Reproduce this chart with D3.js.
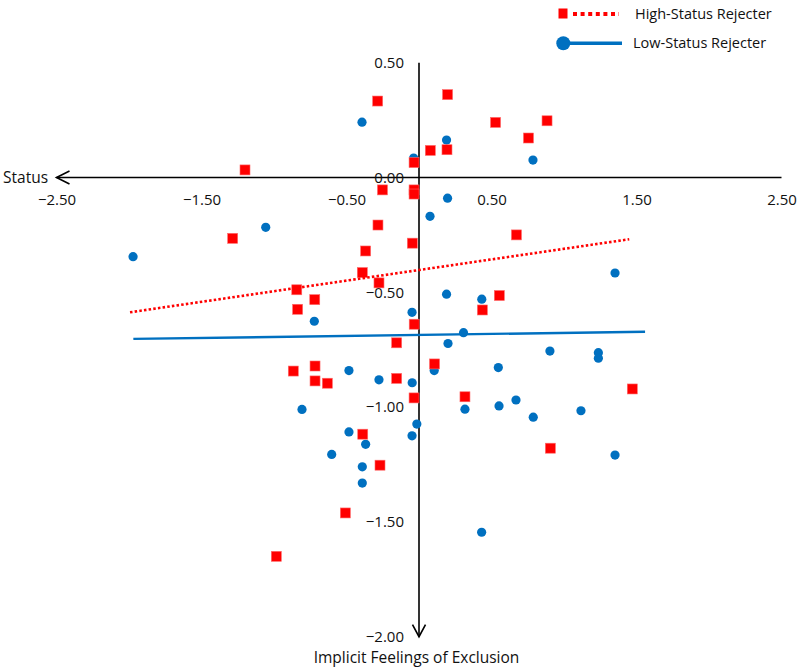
<!DOCTYPE html>
<html>
<head>
<meta charset="utf-8">
<script src="https://cdn.jsdelivr.net/npm/d3@7"></script>
<style>
  html, body { margin: 0; padding: 0; background: #fff; }
  svg { display: block; font-family: "Open Sans", "Noto Sans", sans-serif; }
</style>
</head>
<body>
<svg id="chart" width="800" height="671"></svg>
<script>
// ---- Data ----
const xTicks = [-2.5, -1.5, -0.5, 0.5, 1.5, 2.5];
const yTicks = [0.5, 0, -0.5, -1, -1.5, -2];

const highX = [-0.285, -1.200, -0.252, -1.285, -0.283, -0.368, -0.391, -0.843, -0.276, -0.719,
               -0.837, 0.197, 0.528, 0.883, 0.755, 0.078, 0.193, -0.034, -0.034, -0.034,
               0.672, -0.046, 0.554, 0.437, -0.033, -0.154, 0.107, -0.867, -0.717, -0.717,
               -0.632, -0.154, -0.034, 0.317, 1.471, -0.388, -0.269, 0.906, -0.508, -0.984];
const highY = [0.333, 0.033, -0.054, -0.265, -0.207, -0.320, -0.414, -0.489, -0.459, -0.532,
               -0.574, 0.361, 0.240, 0.247, 0.172, 0.118, 0.121, 0.065, -0.054, -0.072,
               -0.250, -0.286, -0.514, -0.577, -0.639, -0.720, -0.812, -0.843, -0.821, -0.886,
               -0.896, -0.875, -0.960, -0.955, -0.921, -1.118, -1.253, -1.179, -1.461, -1.650];

const lowX = [-0.393, 0.190, -0.037, 0.786, 0.197, 0.076, -1.057, -1.972, -0.722, 1.352,
              0.190, 0.433, -0.048, 0.307, 0.200, 0.547, -0.483, -0.276, -0.047, 0.105,
              0.317, -0.807, -0.015, -0.483, -0.048, -0.368, -0.602, -0.391, -0.391, 0.903,
              1.237, 1.237, 0.552, 0.669, 0.788, 1.117, 1.352, 0.432];
const lowY = [0.241, 0.163, 0.085, 0.076, -0.090, -0.169, -0.217, -0.345, -0.626, -0.416,
              -0.508, -0.530, -0.587, -0.676, -0.723, -0.828, -0.841, -0.881, -0.894, -0.841,
              -1.009, -1.010, -1.074, -1.108, -1.125, -1.162, -1.206, -1.260, -1.331, -0.756,
              -0.763, -0.787, -0.995, -0.969, -1.044, -1.016, -1.209, -1.545];

// Trend line end points
const highTrendX = [-1.993, 1.450];
const highTrendY = [-0.587, -0.269];
const lowTrendX = [-1.970, 1.559];
const lowTrendY = [-0.703, -0.672];

const seriesNames = ["High-Status Rejecter", "Low-Status Rejecter"];
const RED = "#FF0000", BLUE = "#0070C0";
const TEXT = "#111";

// ---- Scales ----
const svg = d3.select("#chart");
const x = d3.scaleLinear().domain([-2.5, 2.5]).range([56.5, 781.5]);
const y = d3.scaleLinear().domain([0.5, -2]).range([62.7, 636.7]);
const fmt = d3.format(".2f");

// ---- Axes ----
const axisG = svg.append("g");
axisG.append("line")
  .attr("x1", x(-2.5)).attr("x2", x(2.5))
  .attr("y1", y(0)).attr("y2", y(0))
  .attr("stroke", "#000").attr("stroke-width", 1.6);
axisG.append("path")
  .attr("d", `M${x(-2.5) + 13},${y(0) - 6.5} L${x(-2.5)},${y(0)} L${x(-2.5) + 13},${y(0) + 6.5}`)
  .attr("fill", "none").attr("stroke", "#000").attr("stroke-width", 1.6);
axisG.append("line")
  .attr("x1", x(0)).attr("x2", x(0))
  .attr("y1", y(0.5)).attr("y2", y(-2))
  .attr("stroke", "#000").attr("stroke-width", 1.6);
axisG.append("path")
  .attr("d", `M${x(0) - 6.5},${y(-2) - 12} L${x(0)},${y(-2)} L${x(0) + 6.5},${y(-2) - 12}`)
  .attr("fill", "none").attr("stroke", "#000").attr("stroke-width", 1.6);

// tick labels via d3 axes
const xAxis = d3.axisBottom(x).tickValues(xTicks).tickFormat(fmt).tickSize(0).tickPadding(0);
const xg = svg.append("g").attr("transform", `translate(0,${y(0) + 16.5})`).call(xAxis);
xg.select(".domain").remove();
xg.selectAll("text").attr("font-size", 15).attr("fill", TEXT)
  .attr("font-family", "'Open Sans', sans-serif").attr("dy", "0.71em");

const yAxis = d3.axisLeft(y).tickValues(yTicks).tickFormat(fmt).tickSize(0).tickPadding(0);
const yg = svg.append("g").attr("transform", `translate(${x(0) - 15},0)`).call(yAxis);
yg.select(".domain").remove();
yg.selectAll("text").attr("font-size", 15).attr("fill", TEXT)
  .attr("font-family", "'Open Sans', sans-serif");

// axis titles
svg.append("text").attr("x", 3).attr("y", y(0)).attr("dy", "0.35em")
  .attr("font-size", 15.5).attr("fill", TEXT).text("Status");
svg.append("text").attr("x", 416.5).attr("y", 658).attr("dy", "0.35em")
  .attr("text-anchor", "middle").attr("font-size", 15.5).attr("fill", TEXT)
  .text("Implicit Feelings of Exclusion");

// ---- Markers ----
const lowData = lowX.map((v, i) => ({ x: v, y: lowY[i] }));
const highData = highX.map((v, i) => ({ x: v, y: highY[i] }));

svg.append("g").selectAll("circle").data(lowData).join("circle")
  .attr("cx", d => x(d.x)).attr("cy", d => y(d.y)).attr("r", 4.6)
  .attr("fill", BLUE);

const sq = 10;
svg.append("g").selectAll("rect").data(highData).join("rect")
  .attr("x", d => x(d.x) - sq / 2).attr("y", d => y(d.y) - sq / 2)
  .attr("width", sq).attr("height", sq)
  .attr("fill", RED).attr("stroke", "#ff6a6a").attr("stroke-width", 0.6);

// ---- Trend lines ----
const line = d3.line().x(d => x(d[0])).y(d => y(d[1]));
svg.append("path")
  .datum(highTrendX.map((v, i) => [v, highTrendY[i]]))
  .attr("d", line).attr("fill", "none")
  .attr("stroke", RED).attr("stroke-width", 2.6).attr("stroke-dasharray", "2.5,2.2");
svg.append("path")
  .datum(lowTrendX.map((v, i) => [v, lowTrendY[i]]))
  .attr("d", line).attr("fill", "none")
  .attr("stroke", BLUE).attr("stroke-width", 2.4);

// ---- Legend ----
const lg = svg.append("g");
lg.append("rect").attr("x", 558.5).attr("y", 8.5).attr("width", 9).attr("height", 10).attr("fill", RED);
lg.append("line").attr("x1", 573).attr("x2", 619).attr("y1", 14).attr("y2", 14)
  .attr("stroke", RED).attr("stroke-width", 4).attr("stroke-dasharray", "4,3.6");
lg.append("text").attr("x", 635).attr("y", 13.5).attr("dy", "0.35em")
  .attr("font-size", 14.5).attr("fill", TEXT).text(seriesNames[0]);

lg.append("line").attr("x1", 570).attr("x2", 622).attr("y1", 43.3).attr("y2", 43.3)
  .attr("stroke", BLUE).attr("stroke-width", 3.6);
lg.append("circle").attr("cx", 563.3).attr("cy", 43.3).attr("r", 7).attr("fill", BLUE);
lg.append("text").attr("x", 633).attr("y", 43.3).attr("dy", "0.35em")
  .attr("font-size", 14.5).attr("fill", TEXT).text(seriesNames[1]);
</script>
</body>
</html>
